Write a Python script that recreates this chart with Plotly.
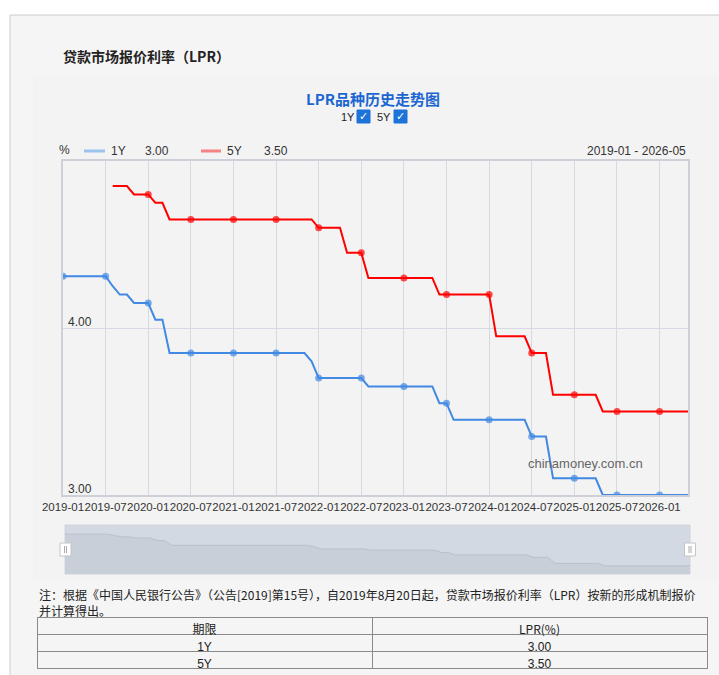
import pandas as pd
import plotly.graph_objects as go

W, H = 719, 675

# monthly categories, 2019-01 .. 2026-05
months = [p.strftime("%Y-%m") for p in pd.period_range("2019-01", "2026-05", freq="M")]

lpr_1y = [
    4.31, 4.31, 4.31, 4.31, 4.31, 4.31, 4.31, 4.25, 4.20, 4.20, 4.15, 4.15,  # 2019
    4.15, 4.05, 4.05, 3.85, 3.85, 3.85, 3.85, 3.85, 3.85, 3.85, 3.85, 3.85,  # 2020
    3.85, 3.85, 3.85, 3.85, 3.85, 3.85, 3.85, 3.85, 3.85, 3.85, 3.85, 3.80,  # 2021
    3.70, 3.70, 3.70, 3.70, 3.70, 3.70, 3.70, 3.65, 3.65, 3.65, 3.65, 3.65,  # 2022
    3.65, 3.65, 3.65, 3.65, 3.65, 3.55, 3.55, 3.45, 3.45, 3.45, 3.45, 3.45,  # 2023
    3.45, 3.45, 3.45, 3.45, 3.45, 3.45, 3.35, 3.35, 3.35, 3.10, 3.10, 3.10,  # 2024
    3.10, 3.10, 3.10, 3.10, 3.00, 3.00, 3.00, 3.00, 3.00, 3.00, 3.00, 3.00,  # 2025
    3.00, 3.00, 3.00, 3.00, 3.00,                                            # 2026
]

lpr_5y = [
    None, None, None, None, None, None, None, 4.85, 4.85, 4.85, 4.80, 4.80,  # 2019
    4.80, 4.75, 4.75, 4.65, 4.65, 4.65, 4.65, 4.65, 4.65, 4.65, 4.65, 4.65,  # 2020
    4.65, 4.65, 4.65, 4.65, 4.65, 4.65, 4.65, 4.65, 4.65, 4.65, 4.65, 4.65,  # 2021
    4.60, 4.60, 4.60, 4.60, 4.45, 4.45, 4.45, 4.30, 4.30, 4.30, 4.30, 4.30,  # 2022
    4.30, 4.30, 4.30, 4.30, 4.30, 4.20, 4.20, 4.20, 4.20, 4.20, 4.20, 4.20,  # 2023
    4.20, 3.95, 3.95, 3.95, 3.95, 3.95, 3.85, 3.85, 3.85, 3.60, 3.60, 3.60,  # 2024
    3.60, 3.60, 3.60, 3.60, 3.50, 3.50, 3.50, 3.50, 3.50, 3.50, 3.50, 3.50,  # 2025
    3.50, 3.50, 3.50, 3.50, 3.50,                                            # 2026
]

y_ticks = [3, 4]

terms = ["1Y", "5Y"]
table_header = ["期限", "LPR(%)"]
latest = [lpr_1y[-1], lpr_5y[-1]]

BLUE = "#4189e2"
RED = "#ff0000"
CJK = "Noto Sans CJK SC"
LAT = "Liberation Sans"


def px(x):
    return x / W


def py(y):
    return 1 - y / H


# dots only on every 6th month, like the source chart
dot_size = [7 if i % 6 == 0 else 0 for i in range(len(months))]

fig = go.Figure()

fig.add_trace(go.Scatter(x=months, y=lpr_1y, mode="lines+markers", name="1Y",
                         line=dict(color=BLUE, width=2),
                         marker=dict(color=BLUE, size=dot_size, line=dict(width=0)),
                         xaxis="x", yaxis="y", showlegend=False))
fig.add_trace(go.Scatter(x=months, y=lpr_5y, mode="lines+markers", name="5Y",
                         line=dict(color=RED, width=2),
                         marker=dict(color=RED, size=dot_size, line=dict(width=0)),
                         xaxis="x", yaxis="y", showlegend=False))

# data-zoom thumbnail
fig.add_trace(go.Scatter(x=months, y=lpr_1y, mode="lines", fill="tozeroy",
                         line=dict(color="#b9c0cb", width=1), fillcolor="#c9cfd9",
                         xaxis="x2", yaxis="y2", showlegend=False, hoverinfo="skip"))

fig.add_trace(go.Table(
    domain=dict(x=[px(37), px(707)], y=[py(672), py(617)]),
    columnwidth=[1, 1],
    header=dict(values=table_header, height=17, align="center",
                fill_color="rgba(0,0,0,0)", line=dict(color="#8a8a8a", width=1),
                font=dict(family=CJK, size=12, color="#222")),
    cells=dict(values=[terms, [f"{v:.2f}" for v in latest]], height=17, align="center",
               fill_color="rgba(0,0,0,0)", line=dict(color="#8a8a8a", width=1),
               font=dict(family=LAT, size=12, color="#222")),
))

shapes = [
    # page panel
    dict(type="rect", xref="paper", yref="paper", x0=px(10), x1=px(725), y0=py(680), y1=py(15),
         fillcolor="#f5f5f5", line=dict(color="#cccccc", width=1), layer="below"),
    dict(type="rect", xref="paper", yref="paper", x0=px(33), x1=px(719), y0=py(580), y1=py(75),
         fillcolor="#f3f3f3", line=dict(width=0), layer="below"),
    # legend swatches
    dict(type="line", xref="paper", yref="paper", x0=px(84), x1=px(105), y0=py(151), y1=py(151),
         line=dict(color="#9cc2ef", width=3)),
    dict(type="line", xref="paper", yref="paper", x0=px(201), x1=px(221), y0=py(151), y1=py(151),
         line=dict(color="#f78282", width=3)),
    # checkboxes
    dict(type="rect", xref="paper", yref="paper", x0=px(357), x1=px(370), y0=py(123), y1=py(110),
         fillcolor="#1c73d8", line=dict(color="#1c73d8", width=1)),
    dict(type="rect", xref="paper", yref="paper", x0=px(394), x1=px(407), y0=py(123), y1=py(110),
         fillcolor="#1c73d8", line=dict(color="#1c73d8", width=1)),
    # data-zoom background
    dict(type="rect", xref="x2 domain", yref="y2 domain", x0=0, x1=1, y0=0, y1=1,
         fillcolor="#d3d9e3", line=dict(color="#d0d4da", width=1), layer="below"),
]

for cx in (65.5, 690):
    shapes.append(dict(type="rect", xref="paper", yref="paper",
                       x0=px(cx - 5.5), x1=px(cx + 5.5), y0=py(556), y1=py(543),
                       fillcolor="#ffffff", line=dict(color="#c4c4c4", width=1)))
    for dx in (-1, 1):
        shapes.append(dict(type="line", xref="paper", yref="paper",
                           x0=px(cx + dx), x1=px(cx + dx), y0=py(553), y1=py(546),
                           line=dict(color="#aaaaaa", width=1)))


def note(x, y, text, size=12, color="#333", family=CJK, xanchor="left", bold=False):
    return dict(xref="paper", yref="paper", x=px(x), y=py(y), text=f"<b>{text}</b>" if bold else text,
                showarrow=False, xanchor=xanchor, yanchor="middle",
                font=dict(family=family, size=size, color=color))


annotations = [
    note(61, 56, "贷款市场报价利率（LPR）", size=14, color="#222", bold=True),
    note(373, 98, "LPR品种历史走势图", size=15, color="#1c66d1", xanchor="center", bold=True),
    note(339, 117, "1Y", size=11, color="#222", family=LAT),
    note(375, 117, "5Y", size=11, color="#222", family=LAT),
    note(363.5, 116.5, "✓", size=11, color="#ffffff", family="DejaVu Sans", xanchor="center", bold=True),
    note(400.5, 116.5, "✓", size=11, color="#ffffff", family="DejaVu Sans", xanchor="center", bold=True),
    note(57, 150, "%", size=12, color="#333", family=LAT),
    note(109, 151, "1Y", size=12, color="#333", family=LAT),
    note(143, 151, f"{lpr_1y[-1]:.2f}", size=12, color="#333", family=LAT),
    note(225, 151, "5Y", size=12, color="#333", family=LAT),
    note(262, 151, f"{lpr_5y[-1]:.2f}", size=12, color="#333", family=LAT),
    note(688, 151, f"{months[0]} - {months[-1]}", size=12, color="#333", family=LAT, xanchor="right"),
    note(585, 464, "chinamoney.com.cn", size=13, color="#666", family=LAT, xanchor="center"),
    dict(xref="paper", yref="paper", x=px(37), y=py(584), xanchor="left", yanchor="top", align="left",
         showarrow=False, font=dict(family=CJK, size=12, color="#222"),
         text="注：根据《中国人民银行公告》（公告[2019]第15号），自2019年8月20日起，"
              "贷款市场报价利率（LPR）按新的形成机制报价<br>并计算得出。"),
]

# y tick labels sit inside the plot, just above their grid line
for v in y_ticks:
    annotations.append(dict(xref="x domain", yref="y", x=0, y=v, text=f"{v:.2f}",
                            showarrow=False, xanchor="left", yanchor="middle",
                            xshift=3, yshift=6, font=dict(family=LAT, size=12, color="#333")))

fig.update_layout(
    width=W, height=H,
    margin=dict(l=0, r=0, t=0, b=0, autoexpand=False),
    paper_bgcolor="#ffffff",
    plot_bgcolor="rgba(0,0,0,0)",
    font=dict(family=CJK, size=12, color="#333"),
    showlegend=False,
    shapes=shapes,
    annotations=annotations,
    xaxis=dict(domain=[px(63), px(688)], anchor="y", type="category",
               range=[-0.001, len(months) - 1], tickmode="array", tickvals=months[::6],
               tickangle=0, automargin=False, ticklabeloverflow="allow",
               showgrid=True, gridcolor="#d6d9e1", gridwidth=1,
               showline=True, mirror=True, linecolor="#cdd0d6", linewidth=1.5,
               ticks="", tickfont=dict(family=LAT, size=11.5, color="#333")),
    yaxis=dict(domain=[py(495), py(161)], anchor="x", range=[3, 5],
               tickmode="array", tickvals=y_ticks, showticklabels=False, automargin=False,
               showgrid=True, gridcolor="#d6d9e1", gridwidth=1, zeroline=False,
               showline=True, mirror=True, linecolor="#cdd0d6", linewidth=1.5,
               ticks=""),
    xaxis2=dict(domain=[px(65), px(690)], anchor="y2", type="category",
                range=[0, len(months) - 1], visible=False),
    yaxis2=dict(domain=[py(574), py(525)], anchor="x2", range=[2.66, 4.69], visible=False),
)

# the page is exactly the figure's size, so drop the default body margin
fig.write_html("out.html", config={"displayModeBar": False},
               post_script="document.body.style.margin='0';"
                           "document.documentElement.style.overflow='hidden';")
